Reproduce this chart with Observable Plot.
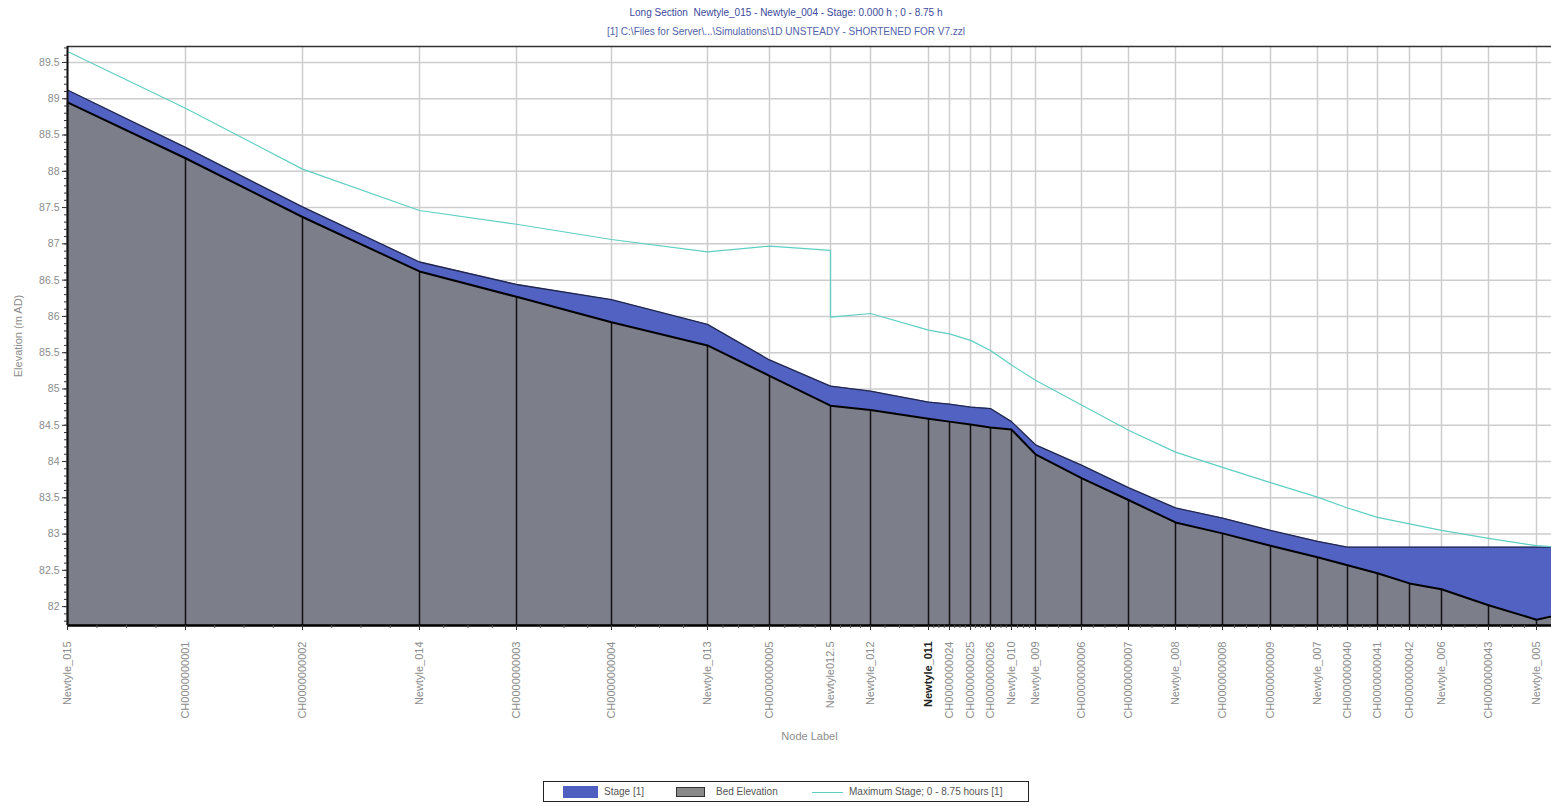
<!DOCTYPE html>
<html>
<head>
<meta charset="utf-8">
<script src="https://cdn.jsdelivr.net/npm/d3@7"></script>
<script src="https://cdn.jsdelivr.net/npm/@observablehq/plot@0.6"></script>
<style>
  body { margin: 0; background: #fff; font-family: "Liberation Sans", Arial, sans-serif; }
  #wrap { position: relative; width: 1551px; height: 806px; overflow: hidden; }
  .title { position: absolute; left: 0; width: 1572px; text-align: center; font-size: 10px; white-space: pre; }
  #chart { position: absolute; left: 0; top: 0; }
  #legend { position: absolute; left: 543px; top: 781px; width: 486px; height: 21px; border: 1px solid #222; box-sizing: border-box; font-size: 10px; color: #555; }
  #legend .sw { position: absolute; box-sizing: border-box; }
  #legend .lab { position: absolute; top: 4px; white-space: nowrap; }
</style>
</head>
<body>
<div id="wrap">
  <div class="title" style="top:7px;color:#3a4a9c">Long Section  Newtyle_015 - Newtyle_004 - Stage: 0.000 h ; 0 - 8.75 h</div>
  <div class="title" style="top:26px;color:#5262aa">[1] C:\Files for Server\...\Simulations\1D UNSTEADY - SHORTENED FOR V7.zzl</div>
  <div id="chart"></div>
  <div id="legend">
    <div class="sw" style="left:19px;top:4px;width:35px;height:12px;background:#4f5fc0;"></div>
    <div class="lab" style="left:60px;">Stage [1]</div>
    <div class="sw" style="left:132px;top:5px;width:29px;height:10px;background:#8a8a8a;border:1px solid #333;"></div>
    <div class="lab" style="left:172px;">Bed Elevation</div>
    <div class="sw" style="left:268px;top:10px;width:31px;height:1px;background:#5fcfc4;"></div>
    <div class="lab" style="left:305px;">Maximum Stage; 0 - 8.75 hours [1]</div>
  </div>
</div>
<script>
// Long section nodes, upstream to downstream
const nodeLabels = [
  "Newtyle_015", "CH0000000001", "CH0000000002", "Newtyle_014", "CH0000000003",
  "CH0000000004", "Newtyle_013", "CH0000000005", "Newtyle012.5", "Newtyle_012",
  "Newtyle_011", "CH0000000024", "CH0000000025", "CH0000000026", "Newtyle_010",
  "Newtyle_009", "CH0000000006", "CH0000000007", "Newtyle_008", "CH0000000008",
  "CH0000000009", "Newtyle_007", "CH0000000040", "CH0000000041", "CH0000000042",
  "Newtyle_006", "CH0000000043", "Newtyle_005", "Newtyle_004"
];
// chainage along the reach (m)
const chainage = [
  0, 118, 235, 352, 449, 544, 640, 702, 763, 803,
  861, 882, 903, 923, 944, 968, 1014, 1061, 1108, 1155,
  1203, 1250, 1280, 1310, 1342, 1374, 1421, 1469, 1530
];
// bed elevation (m AD)
const bedElevation = [
  88.95, 88.18, 87.37, 86.62, 86.27, 85.92, 85.60, 85.18, 84.77, 84.71,
  84.59, 84.55, 84.51, 84.47, 84.44, 84.10, 83.77, 83.47, 83.16, 83.01,
  82.84, 82.68, 82.57, 82.46, 82.32, 82.24, 82.02, 81.82, 82.00
];
// stage at 0.000 h (m AD)
const stage = [
  89.12, 88.33, 87.51, 86.75, 86.44, 86.23, 85.89, 85.40, 85.04, 84.97,
  84.82, 84.79, 84.75, 84.73, 84.55, 84.23, 83.95, 83.64, 83.36, 83.22,
  83.05, 82.90, 82.82, 82.82, 82.82, 82.82, 82.82, 82.82, 82.82
];
// maximum stage over 0 - 8.75 h (m AD), upstream face of each node
const maxStage = [
  89.65, 88.87, 88.03, 87.46, 87.27, 87.06, 86.89, 86.97, 86.91, 86.04,
  85.81, 85.76, 85.67, 85.53, 85.33, 85.12, 84.78, 84.43, 84.13, 83.92,
  83.71, 83.51, 83.36, 83.23, 83.14, 83.05, 82.94, 82.84, 82.79
];
// downstream face of the structure at Newtyle012.5
const maxStageDrop = { label: "Newtyle012.5", value: 85.99 };
// node drawn in bold on the axis
const boldNode = "Newtyle_011";

// visible window of the section (the reach continues to Newtyle_004 off to the right)
const xDomain = [0, 1484];
const yDomain = [81.74, 89.72];
const yMajor = d3.range(82, 89.51, 0.5);
const yMinor = d3.range(818, 898).map(d => d / 10);

const nodes = nodeLabels.map((label, i) => ({
  label, chainage: chainage[i], bed: bedElevation[i], stage: stage[i], max: maxStage[i]
}));
const visibleNodes = nodes.filter(d => d.chainage <= xDomain[1]);
const maxLine = [];
for (const n of nodes) {
  maxLine.push({ chainage: n.chainage, value: n.max });
  if (n.label === maxStageDrop.label) maxLine.push({ chainage: n.chainage, value: maxStageDrop.value });
}
const xMinor = d3.pairs(chainage)
  .flatMap(([a, b]) => [1, 2, 3].map(k => a + (b - a) * k / 4))
  .filter(c => c <= xDomain[1]);

const grey = "#8c8c8c";

const chart = Plot.plot({
  width: 1551,
  height: 770,
  marginLeft: 67,
  marginRight: 0,
  marginTop: 46,
  marginBottom: 145,
  style: { fontFamily: "Liberation Sans, Arial, sans-serif", fontSize: "11px", color: grey, background: "transparent" },
  x: { domain: xDomain, label: null },
  y: { domain: yDomain, label: null },
  marks: [
    Plot.gridY(yMajor, { stroke: "#cdcdcd", strokeOpacity: 1, strokeWidth: 1.5 }),
    Plot.gridX(visibleNodes.map(d => d.chainage), { stroke: "#cdcdcd", strokeOpacity: 1, strokeWidth: 1.5 }),
    Plot.areaY(nodes, { x: "chainage", y1: yDomain[0], y2: "bed", fill: "#7c7e8a", clip: true }),
    Plot.areaY(nodes, { x: "chainage", y1: "bed", y2: "stage", fill: "#5262c2", clip: true }),
    Plot.ruleX(visibleNodes, { x: "chainage", y1: yDomain[0], y2: "bed", stroke: "#111", strokeWidth: 1.5 }),
    Plot.line(nodes, { x: "chainage", y: "stage", stroke: "#20264e", strokeWidth: 1.3, clip: true }),
    Plot.line(nodes, { x: "chainage", y: "bed", stroke: "#000", strokeWidth: 2, clip: true }),
    Plot.line(maxLine, { x: "chainage", y: "value", stroke: "#5fcfc4", strokeWidth: 1.2, clip: true }),
    // plot border (the section continues past the right edge)
    Plot.ruleY([yDomain[1]], { stroke: "#333", strokeWidth: 1.5 }),
    Plot.ruleY([yDomain[0]], { stroke: "#000", strokeWidth: 2.5 }),
    Plot.ruleX([xDomain[0]], { stroke: "#111", strokeWidth: 2 }),
    // y axis
    Plot.axisY(yMajor, { tickSize: 5, tickPadding: 3, stroke: "#333", fill: grey, label: null, fontSize: 10.5, tickFormat: d3.format("~g") }),
    Plot.axisY(yMinor, { tickSize: 3, stroke: "#333", tickFormat: () => "", label: null }),
    // x axis ticks
    Plot.axisX(visibleNodes.map(d => d.chainage), { tickSize: 5, stroke: "#333", tickFormat: () => "", label: null }),
    Plot.axisX(xMinor, { tickSize: 3, stroke: "#555", tickFormat: () => "", label: null }),
    // node labels
    Plot.text(visibleNodes.filter(d => d.label !== boldNode), {
      x: "chainage", text: "label", frameAnchor: "bottom", rotate: -90, textAnchor: "end", lineAnchor: "middle",
      dy: 16, fill: grey, fontSize: 11
    }),
    Plot.text(visibleNodes.filter(d => d.label === boldNode), {
      x: "chainage", text: "label", frameAnchor: "bottom", rotate: -90, textAnchor: "end", lineAnchor: "middle",
      dy: 16, fill: "#222", fontSize: 11, fontWeight: "bold"
    }),
    // axis titles
    Plot.text(["Node Label"], { frameAnchor: "bottom", lineAnchor: "middle", dy: 111, fill: grey, fontSize: 11 }),
    Plot.text(["Elevation (m AD)"], { frameAnchor: "left", rotate: -90, textAnchor: "middle", lineAnchor: "middle", dx: -49, fill: grey, fontSize: 11 })
  ]
});
document.getElementById("chart").appendChild(chart);
</script>
</body>
</html>
